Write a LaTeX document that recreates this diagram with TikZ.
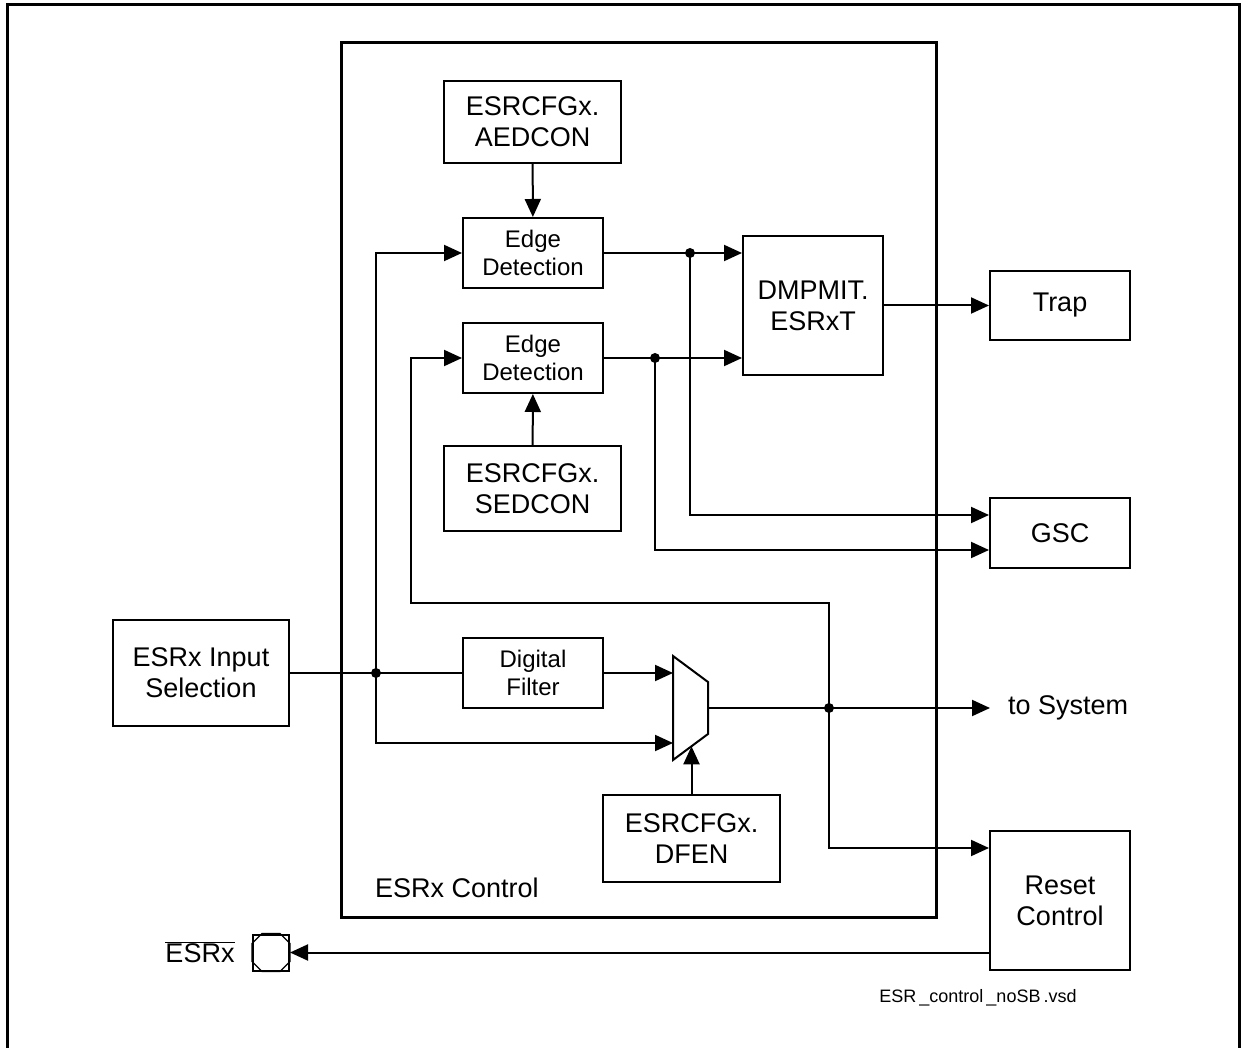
\documentclass[tikz,border=0pt]{standalone}
\usepackage{fontspec}
\setmainfont{Liberation Sans}
\usepackage{tikz}
\usetikzlibrary{arrows.meta, positioning, calc}
\tikzset{
    blk/.style   ={draw=black, line width=2pt, fill=white, inner sep=0pt,
                   align=center, font=\fontsize{27}{31}\selectfont},
    cfg/.style   ={blk, minimum width=177pt, minimum height=84pt},
    edg/.style   ={blk, minimum width=140pt, minimum height=70pt,
                   font=\fontsize{24}{28}\selectfont},
    ctrl/.style  ={draw=black, line width=3pt, fill=white},
    frame/.style ={draw=black, line width=3pt},
    muxshape/.style={draw=black, line width=2pt, fill=white},
    padbox/.style={draw=black, line width=2pt, fill=white,
                   minimum size=36pt, inner sep=0pt},
    ln/.style    ={line width=2pt, draw=black},
    ar/.style    ={-{Triangle[length=18pt, width=16pt]}, line width=2pt, draw=black},
    dot/.style   ={fill=black},
    lbl/.style   ={font=\fontsize{27}{31}\selectfont, inner sep=0pt},
    note/.style  ={font=\fontsize{18}{22}\selectfont, inner sep=0pt}
}

\begin{document}
\begin{tikzpicture}[x=1pt, y=1pt]
  \useasboundingbox (0,0) rectangle (1241,1047);
  \draw[frame] (7,-10) -- (7,1042) -- (1239.5,1042) -- (1239.5,-10);

  \node[ctrl, minimum width=595pt, minimum height=874pt] (ctrl) at (638.5,567) {};
  \node[lbl, anchor=west] (ctrllbl) at (375,159) {ESRx Control};

  \node[cfg, minimum height=82pt] (aed) at (532.5,925) {ESRCFGx.\\AEDCON};
  \node[edg] (ed1) at (533,794) {Edge\\Detection};
  \node[edg] (ed2) at (533,689) {Edge\\Detection};
  \node[cfg, minimum height=85pt] (sed) at (532.5,558.5) {ESRCFGx.\\SEDCON};
  \node[blk, minimum width=140pt, minimum height=139pt] (dmp) at (813,741.5) {DMPMIT.\\ESRxT};
  \node[blk, minimum width=140pt, minimum height=69pt] (trap) at (1060,741.5) {Trap};
  \node[blk, minimum width=140pt, minimum height=70pt] (gsc) at (1060,514) {GSC};
  \node[blk, minimum width=176pt, minimum height=106pt] (insel) at (201,374) {ESRx Input\\Selection};
  \node[edg] (dfilt) at (533,374) {Digital\\Filter};
  \node[cfg, minimum height=87pt] (dfen) at (691.5,208.5) {ESRCFGx.\\DFEN};
  \node[blk, minimum width=140pt, minimum height=139pt] (rst) at (1060,146.5) {Reset\\Control};
  \node[lbl, anchor=west, inner xsep=18pt] (tosys) at (990,339) {to System};

  % multiplexer
  \draw[muxshape] (673,391) -- (708,365) -- (708,313) -- (673,287) -- cycle;
  \coordinate (muxa) at (673,374);
  \coordinate (muxb) at (673,304);
  \coordinate (muxo) at (708,339);
  \coordinate (muxs) at (691.5,300.7);

  % pad
  \node[padbox] (pad) at (271,94.5) {};
  \draw[ln, line width=1.4pt] ($(pad.north west)+(10,0)$) -- ($(pad.north east)+(-10,0)$)
       -- ($(pad.north east)+(0,-10)$) -- ($(pad.south east)+(0,10)$)
       -- ($(pad.south east)+(-10,0)$) -- ($(pad.south west)+(10,0)$)
       -- ($(pad.south west)+(0,10)$) -- ($(pad.north west)+(0,-10)$) -- cycle;
  \node[lbl] (esrx) at (200,95) {$\overline{\mbox{ESRx}}$};

  \node[note] (vsd) at (978,49) {ESR\,\_control\,\_noSB\,.vsd};

  % taps and bends
  \coordinate (jin)   at (376,374);
  \coordinate (j1)    at (690,794);
  \coordinate (j2)    at (655,689);
  \coordinate (jsys)  at (829,339);
  \coordinate (fb)    at (411,444);
  \coordinate (gsca)  at ($(gsc.west)+(0,18)$);
  \coordinate (gscb)  at ($(gsc.west)+(0,-17)$);
  \coordinate (rstin) at ($(rst.west)+(0,52.5)$);

  % configuration inputs
  \draw[ar] (aed) -- (ed1);
  \draw[ar] (sed) -- (ed2);
  \draw[ar] (dfen.north) -- (muxs);

  % edge detection to trap and gsc
  \draw[ar] (ed1.east) -- (ed1.east -| dmp.west);
  \draw[ar] (ed2.east) -- (ed2.east -| dmp.west);
  \draw[ar] (dmp) -- (trap);
  \draw[ar] (j1) |- (gsca);
  \draw[ar] (j2) |- (gscb);

  % input path through filter and mux
  \draw[ln] (insel.east) -- (dfilt.west);
  \draw[ar] (dfilt.east) -- (muxa);
  \draw[ar] (jin) |- (ed1.west);
  \draw[ar] (jin) |- (muxb);
  \draw[ar] (muxo) -- (tosys.west);
  \draw[ar] (jsys) |- (fb) |- (ed2.west);
  \draw[ar] (jsys) |- (rstin);
  \draw[ar] (rst.west |- pad) -- (pad.east);

  \foreach \j in {jin, j1, j2, jsys}
    \fill[dot] (\j) circle (5pt);
\end{tikzpicture}
\end{document}
